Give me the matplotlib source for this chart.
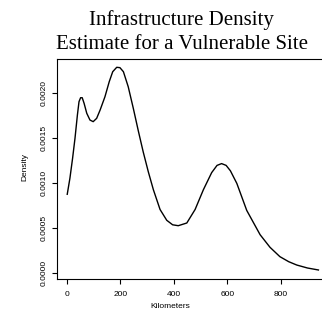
import matplotlib
matplotlib.use("Agg")
import matplotlib.pyplot as plt

# density curve (km, density)
km = [2, 12, 22, 31, 40, 46, 52, 58, 65, 75, 87, 99, 112, 125, 143, 159,
      172, 187, 199, 212, 230, 249, 268, 286, 305, 324, 349, 374, 396, 417,
      449, 480, 511, 542, 562, 579, 596, 612, 636, 673, 723, 760, 797, 830,
      860, 900, 941]
density = [0.000869, 0.001047, 0.001269, 0.001491, 0.00175, 0.001898,
           0.001942, 0.001942, 0.00188, 0.001769, 0.001694, 0.001676,
           0.001713, 0.001806, 0.001953, 0.00212, 0.002231, 0.00228,
           0.002276, 0.002231, 0.002064, 0.001824, 0.00157, 0.00134,
           0.00112, 0.00092, 0.00070, 0.00058, 0.00053, 0.00052,
           0.00055, 0.00070, 0.00092, 0.00111, 0.00119, 0.00121,
           0.00119, 0.00113, 0.00099, 0.00069, 0.00042, 0.00028,
           0.000176, 0.00012, 0.000083, 0.00005, 0.000028]

x_ticks = [0, 200, 400, 600, 800]
y_ticks = [0.0, 0.0005, 0.0010, 0.0015, 0.0020]
y_tick_labels = ["0.0000", "0.0005", "0.0010", "0.0015", "0.0020"]

W, H = 322, 318
fig = plt.figure(figsize=(W / 100, H / 100), dpi=100)

# axes box: left 57px, top 59px, bottom 279px, right edge off-canvas
left_px, right_px, top_px, bot_px = 57, 330, 59, 279
ax = fig.add_axes([left_px / W, (H - bot_px) / H,
                   (right_px - left_px) / W, (bot_px - top_px) / H])

ax.plot(km, density, color="black", linewidth=1.0, solid_joinstyle="round")

# pixel calibration: 0 km at 66.7px, 53.5px per 200 km; 0 at 272.5px, 45px per 0.0005
ax.set_xlim((left_px - 66.7) / 0.2675, (right_px - 66.7) / 0.2675)
ax.set_ylim((272.5 - bot_px) / 90000, (272.5 - top_px) / 90000)

ax.set_xticks(x_ticks)
ax.set_xticklabels([str(v) for v in x_ticks])
ax.set_yticks(y_ticks)
ax.set_yticklabels(y_tick_labels, rotation=90, va="center")

tick_font = {"family": "Liberation Sans", "size": 6}
for lab in ax.get_xticklabels() + ax.get_yticklabels():
    lab.set_fontfamily("Liberation Sans")
    lab.set_fontsize(6)
ax.tick_params(direction="out", length=3.3, width=0.8)
ax.tick_params(axis="x", pad=5)
ax.tick_params(axis="y", pad=3.5)

ax.spines["right"].set_visible(False)
for s in ["top", "left", "bottom"]:
    ax.spines[s].set_linewidth(0.8)

fig.text(25 / W, (H - 167) / H, "Density", rotation=90,
         ha="center", va="center", fontdict=tick_font)
fig.text(170 / W, (H - 307) / H, "Kilometers",
         ha="center", va="center", fontdict=tick_font)

fig.text(181 / W, (H - 25) / H, "Infrastructure Density",
         ha="center", va="baseline", family="Liberation Serif", size=15)
fig.text(182 / W, (H - 49) / H, "Estimate for a Vulnerable Site",
         ha="center", va="baseline", family="Liberation Serif", size=15)

fig.savefig("out.png", dpi=100)
